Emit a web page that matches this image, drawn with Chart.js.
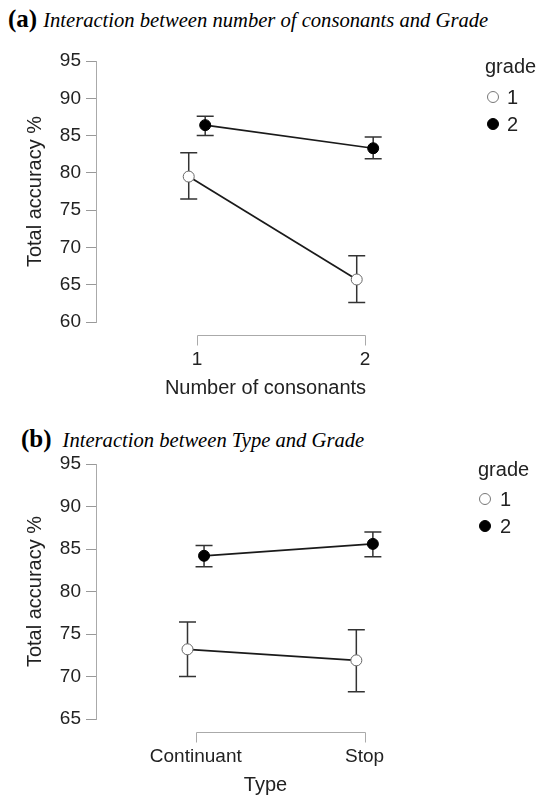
<!DOCTYPE html>
<html lang="en">
<head>
  <meta charset="UTF-8">
  <title>Interaction plots</title>
  <script src="https://cdn.jsdelivr.net/npm/chart.js"></script>
  <style>
    body { margin: 0; background: #fff; }
    #page { position: relative; width: 545px; height: 797px; overflow: hidden; }
    .panel { position: absolute; left: 0; }
    .ptitle { position: absolute; font-family: "Liberation Serif", "Times New Roman", serif; line-height: 30px; color: #000; white-space: nowrap; }
    .ptitle b { font-weight: bold; font-size: 25px; }
    .ptitle i { font-style: italic; font-size: 20.6px; }
    .legend { position: absolute; font-family: "Liberation Sans", Arial, sans-serif; font-size: 20px; color: #222; }
    .legend .lt { position: absolute; white-space: nowrap; line-height: 20px; }
    .legend .dot { position: absolute; width: 10px; height: 10px; border-radius: 50%; }
  </style>
</head>
<body>
<div id="page">
  <div class="ptitle" style="left:8px;top:4px"><b>(a)</b><i style="margin-left:6px">Interaction between number of consonants and Grade</i></div>
  <div class="ptitle" style="left:21px;top:424px"><b>(b)</b><i style="margin-left:11px">Interaction between Type and Grade</i></div>

  <div class="panel" style="top:0"><canvas id="chartA" width="545" height="400"></canvas></div>
  <div class="panel" style="top:400px"><canvas id="chartB" width="545" height="397"></canvas></div>

  <div class="legend" style="left:485px;top:56px">
    <div class="lt" style="left:0;top:0">grade</div>
    <div class="dot" style="left:2px;top:35px;border:1px solid #777;background:#fff"></div>
    <div class="lt" style="left:22px;top:31px">1</div>
    <div class="dot" style="left:2px;top:62px;border:1px solid #000;background:#000"></div>
    <div class="lt" style="left:22px;top:58px">2</div>
  </div>
  <div class="legend" style="left:478px;top:459px">
    <div class="lt" style="left:0;top:0">grade</div>
    <div class="dot" style="left:1px;top:34px;border:1px solid #777;background:#fff"></div>
    <div class="lt" style="left:22px;top:30px">1</div>
    <div class="dot" style="left:1px;top:61px;border:1px solid #000;background:#000"></div>
    <div class="lt" style="left:22px;top:57px">2</div>
  </div>
</div>

<script>
  // (a) number of consonants x grade
  const consCats = ['1', '2'];
  const consG1 = [79.5, 65.7];
  const consG1Lo = [76.5, 62.6];
  const consG1Hi = [82.7, 68.9];
  const consG2 = [86.4, 83.3];
  const consG2Lo = [85.0, 81.9];
  const consG2Hi = [87.6, 84.8];

  // (b) type x grade
  const typeCats = ['Continuant', 'Stop'];
  const typeG1 = [73.2, 71.9];
  const typeG1Lo = [70.0, 68.2];
  const typeG1Hi = [76.4, 75.5];
  const typeG2 = [84.2, 85.6];
  const typeG2Lo = [82.9, 84.1];
  const typeG2Hi = [85.4, 87.0];

  const DODGE = 0.049;
  const SANS = '"Liberation Sans", Arial, sans-serif';
  const TEXT = '#222';

  function points(cats, mean, lo, hi, shift) {
    return cats.map((c, i) => ({ x: i + 1 + shift, y: mean[i], lo: lo[i], hi: hi[i] }));
  }

  // error bars behind the markers + the bracket-style x axis
  const extras = {
    id: 'extras',
    beforeDatasetsDraw(chart) {
      const { ctx, scales: { x, y } } = chart;
      ctx.save();
      ctx.strokeStyle = '#333';
      ctx.lineWidth = 1.5;
      chart.data.datasets.forEach(ds => {
        ds.data.forEach(p => {
          const px = x.getPixelForValue(p.x);
          const t = y.getPixelForValue(p.hi), b = y.getPixelForValue(p.lo);
          ctx.beginPath();
          ctx.moveTo(px, t); ctx.lineTo(px, b);
          ctx.moveTo(px - 8.5, t); ctx.lineTo(px + 8.5, t);
          ctx.moveTo(px - 8.5, b); ctx.lineTo(px + 8.5, b);
          ctx.stroke();
        });
      });
      ctx.restore();
    },
    afterDraw(chart) {
      const { ctx, chartArea, scales: { x } } = chart;
      const n = chart.config.options.plugins.extras.n;
      const yb = Math.round(chartArea.bottom + 13) + 0.5;
      const x1 = Math.round(x.getPixelForValue(1)) + 0.5;
      const x2 = Math.round(x.getPixelForValue(n)) + 0.5;
      ctx.save();
      ctx.strokeStyle = '#aaa';
      ctx.lineWidth = 1;
      ctx.beginPath();
      ctx.moveTo(x1, yb + 10); ctx.lineTo(x1, yb); ctx.lineTo(x2, yb); ctx.lineTo(x2, yb + 10);
      ctx.stroke();
      ctx.restore();
    }
  };

  function makeChart(id, cats, g1, g2, yMin, xMin, xTitle, padTop) {
    return new Chart(document.getElementById(id), {
      type: 'scatter',
      data: {
        datasets: [
          {
            label: '1', data: g1, showLine: true,
            borderColor: '#1a1a1a', borderWidth: 1.7,
            pointBackgroundColor: '#fff', pointBorderColor: '#666', pointBorderWidth: 1,
            pointRadius: 5.5
          },
          {
            label: '2', data: g2, showLine: true,
            borderColor: '#1a1a1a', borderWidth: 1.7,
            pointBackgroundColor: '#000', pointBorderColor: '#000', pointBorderWidth: 1,
            pointRadius: 5.5
          }
        ]
      },
      options: {
        responsive: false,
        animation: false,
        layout: { padding: { top: padTop, right: 110, bottom: 0, left: 0 } },
        plugins: {
          legend: { display: false },
          tooltip: { enabled: false },
          extras: { n: cats.length }
        },
        scales: {
          x: {
            type: 'linear',
            min: xMin,
            max: 2.417,
            afterBuildTicks: s => { s.ticks = cats.map((c, i) => ({ value: i + 1 })); },
            ticks: {
              callback: v => cats[Math.round(v) - 1],
              padding: 26,
              color: TEXT,
              font: { family: SANS, size: 19 }
            },
            grid: { display: false, drawTicks: false },
            border: { display: false },
            title: {
              display: true, text: xTitle, color: TEXT,
              font: { family: SANS, size: 20 },
              padding: { top: 0, bottom: 0 }
            },
            afterFit: s => { s.height = 78; }
          },
          y: {
            min: yMin,
            max: 95,
            ticks: {
              stepSize: 5,
              padding: 5,
              color: TEXT,
              font: { family: SANS, size: 19 }
            },
            grid: { drawOnChartArea: false, drawTicks: true, tickLength: 10, color: '#999', lineWidth: 1 },
            border: { display: true, color: '#aaa', width: 1 },
            title: {
              display: true, text: 'Total accuracy %', color: TEXT,
              font: { family: SANS, size: 20 },
              padding: { top: 23, bottom: 0 }
            },
            afterFit: s => { s.width = 96; }
          }
        }
      },
      plugins: [extras]
    });
  }

  makeChart('chartA', consCats,
    points(consCats, consG1, consG1Lo, consG1Hi, -DODGE),
    points(consCats, consG2, consG2Lo, consG2Hi, DODGE),
    60, 0.399, 'Number of consonants', 61);

  makeChart('chartB', typeCats,
    points(typeCats, typeG1, typeG1Lo, typeG1Hi, -DODGE),
    points(typeCats, typeG2, typeG2Lo, typeG2Hi, DODGE),
    65, 0.409, 'Type', 64);
</script>
</body>
</html>
